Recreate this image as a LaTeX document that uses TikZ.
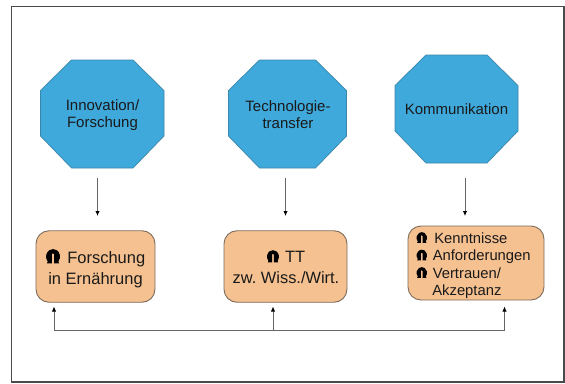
\documentclass[tikz,border=0pt]{standalone}
\usepackage{fontspec}
\setmainfont{Liberation Sans}
\usetikzlibrary{arrows.meta}
\definecolor{octfill}{HTML}{3FA9DC}
\definecolor{octline}{HTML}{3B86AA}
\definecolor{boxfill}{HTML}{F5C190}
\definecolor{boxline}{HTML}{7D6C5C}
\definecolor{frameline}{HTML}{4A4A4A}
\definecolor{conn}{HTML}{666666}
\definecolor{txt}{HTML}{1A1A1A}
\frenchspacing
% arch-shaped bullet: #1 = size in pt
\newcommand{\ico}[1]{\tikz[baseline=-0.5pt,x=#1,y=#1]{\fill[black] (.02,0) -- (.08,.12) .. controls (-.05,.3) and (-.06,.5) .. (-.02,.62) .. controls (.06,.92) and (.3,1.02) .. (.46,1.02) .. controls (.62,1.02) and (.86,.92) .. (.94,.62) .. controls (.98,.5) and (.97,.3) .. (.84,.12) -- (.9,0) -- (.54,0) -- (.54,.66) .. controls (.54,.74) and (.38,.74) .. (.38,.66) -- (.38,0) -- cycle;}}
\tikzset{
  octa/.style={fill=octfill,draw=octline,line width=0.7pt,line join=miter},
  boxa/.style={fill=boxfill,draw=boxline,line width=0.9pt,rounded corners=13pt},
  lab/.style={inner sep=0pt,align=center,text=txt},
  arr/.style={draw=conn,line width=0.9pt,-{Latex[length=5pt,width=4.5pt,color=black]}},
  bus/.style={draw=conn,line width=0.9pt},
}
\newcommand{\octagon}[5]{% name x0 x1 y0 y1 (chamfered)
  \draw[octa] (#2,#4+30.5) -- (#2+31,#4) -- (#3-31,#4) -- (#3,#4+30.5) -- (#3,#5-32) -- (#3-31,#5) -- (#2+31,#5) -- (#2,#5-32) -- cycle;
  \coordinate (#1) at ({(#2+#3)/2},{(#4+#5)/2});
}
\begin{document}
\begin{tikzpicture}[x=1pt,y=-1pt,font=\fontsize{15}{17}\selectfont]
\useasboundingbox (0,0) rectangle (565,383);
\fill[white] (0,0) rectangle (565,383);
\draw[frameline,line width=1.2pt] (11.5,6.3) rectangle (564,382);

\octagon{o1}{40.5}{164}{60}{168}
\octagon{o2}{228.5}{346.5}{60}{168}
\octagon{o3}{395}{518}{55}{163}

\node[lab] (t1) at (102.5,115.3) {Innovation/\\Forschung};
\node[lab] (t2) at (288,115) {Technologie-\\transfer};
\node[lab] (t3) at (456.5,109.5) {Kommunikation};

\node[boxa,minimum width=119pt,minimum height=71.5pt] (b1) at (95.5,266.5) {};
\node[boxa,minimum width=123pt,minimum height=71.5pt] (b2) at (285.5,266.5) {};
\node[boxa,minimum width=136pt,minimum height=74pt] (b3) at (476,263) {};

\node[lab,font=\fontsize{16.5}{20.7}\selectfont] (l1) at (95.5,268.5) {\ico{14pt}\hspace{7pt}Forschung\\in Ernährung};
\node[lab,font=\fontsize{16.4}{20.7}\selectfont] (l2) at (286,267) {\ico{12pt}\hspace{6pt}TT\\zw. Wiss./Wirt.};
\node[lab,align=left,font=\fontsize{14.8}{17.5}\selectfont] (l3) at (473.5,265.5) {\ico{10.5pt}\hspace{7pt}Kenntnisse\\\ico{10.5pt}\hspace{5.5pt}Anforderungen\\\ico{10.5pt}\hspace{5.5pt}Vertrauen/\\\hspace{16pt}Akzeptanz};

\coordinate (d1) at (97.5,178);
\coordinate (d2) at (285.5,178);
\coordinate (d3) at (465,178);
\coordinate (e1) at (97.5,216);
\coordinate (e2) at (285.5,216);
\coordinate (e3) at (465,216);
\draw[arr] (d1) -- (e1);
\draw[arr] (d2) -- (e2);
\draw[arr] (d3) -- (e3);

\coordinate (c1) at (54,330.5);
\coordinate (c2) at (273,330.5);
\coordinate (c3) at (504.5,330.5);
\coordinate (u1) at (54,306.5);
\coordinate (u2) at (273,306.5);
\coordinate (u3) at (504.5,306.5);
\draw[bus] (c1) -- (c3);
\draw[arr] (c1) -- (u1);
\draw[arr] (c2) -- (u2);
\draw[arr] (c3) -- (u3);
\end{tikzpicture}
\end{document}
